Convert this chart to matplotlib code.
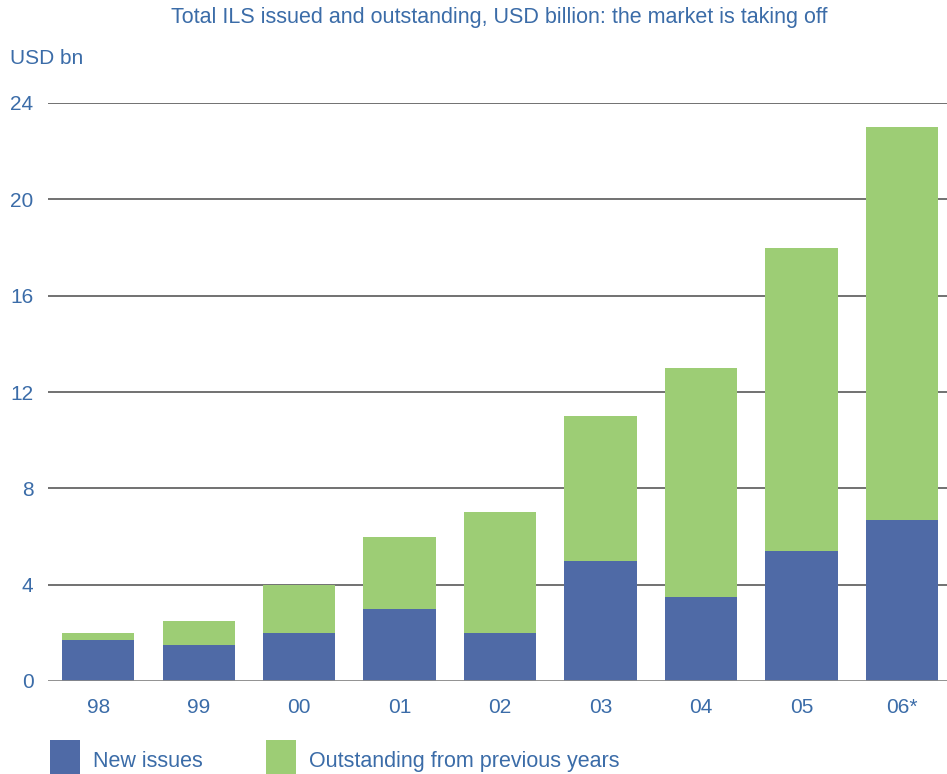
import matplotlib
matplotlib.use('Agg')
import matplotlib.pyplot as plt
import numpy as np

years = ["98", "99", "00", "01", "02", "03", "04", "05", "06*"]
new_issues = [1.7, 1.5, 2.0, 3.0, 2.0, 5.0, 3.5, 5.4, 6.7]
total = [2.0, 2.5, 4.0, 6.0, 7.0, 11.0, 13.0, 18.0, 23.0]
outstanding = [t - n for t, n in zip(total, new_issues)]
y_ticks = [0, 4, 8, 12, 16, 20, 24]

blue = "#4F6AA6"
green = "#9DCD75"
text_col = "#3B6CA8"

plt.rcParams['font.family'] = ['Liberation Sans', 'DejaVu Sans']

fig = plt.figure(figsize=(9.47, 7.74), dpi=100)
ax = fig.add_axes([48 / 947, 93 / 774, 1 - 48 / 947, 578 / 774])

x = np.arange(len(years))
b1 = ax.bar(x, new_issues, width=0.72, color=blue, label="New issues", zorder=3)
b2 = ax.bar(x, outstanding, width=0.72, bottom=new_issues, color=green,
            label="Outstanding from previous years", zorder=3)

ax.set_xlim(-0.5, 8.45)
ax.set_ylim(0, 24)
ax.set_yticks(y_ticks)
ax.set_xticks(x)
ax.set_xticklabels(years)
for s in ax.spines.values():
    s.set_visible(False)
for t in y_ticks[1:]:
    ax.axhline(t, color="#666666", lw=1.3, zorder=1)
ax.axhline(0, color="#888888", lw=2, zorder=4)
ax.tick_params(length=0, labelsize=15, colors=text_col)
ax.tick_params(axis='y', pad=10.5)
ax.tick_params(axis='x', pad=12)

fig.text(499 / 947, 1 - 18 / 774, "Total ILS issued and outstanding, USD billion: the market is taking off",
         ha='center', va='center', fontsize=15.5, color=text_col)
fig.text(10 / 947, 1 - 59 / 774, "USD bn", ha='left', va='center', fontsize=15, color=text_col)

fig.legend(handles=[b1, b2], loc='upper left', bbox_to_anchor=(50 / 947, 1 - 740 / 774),
           ncol=2, frameon=False, fontsize=15.5, labelcolor=text_col,
           handlelength=1.4, handleheight=2.5, columnspacing=2.93, handletextpad=0.6,
           borderaxespad=0, borderpad=0)

fig.savefig("out.png", dpi=100)
